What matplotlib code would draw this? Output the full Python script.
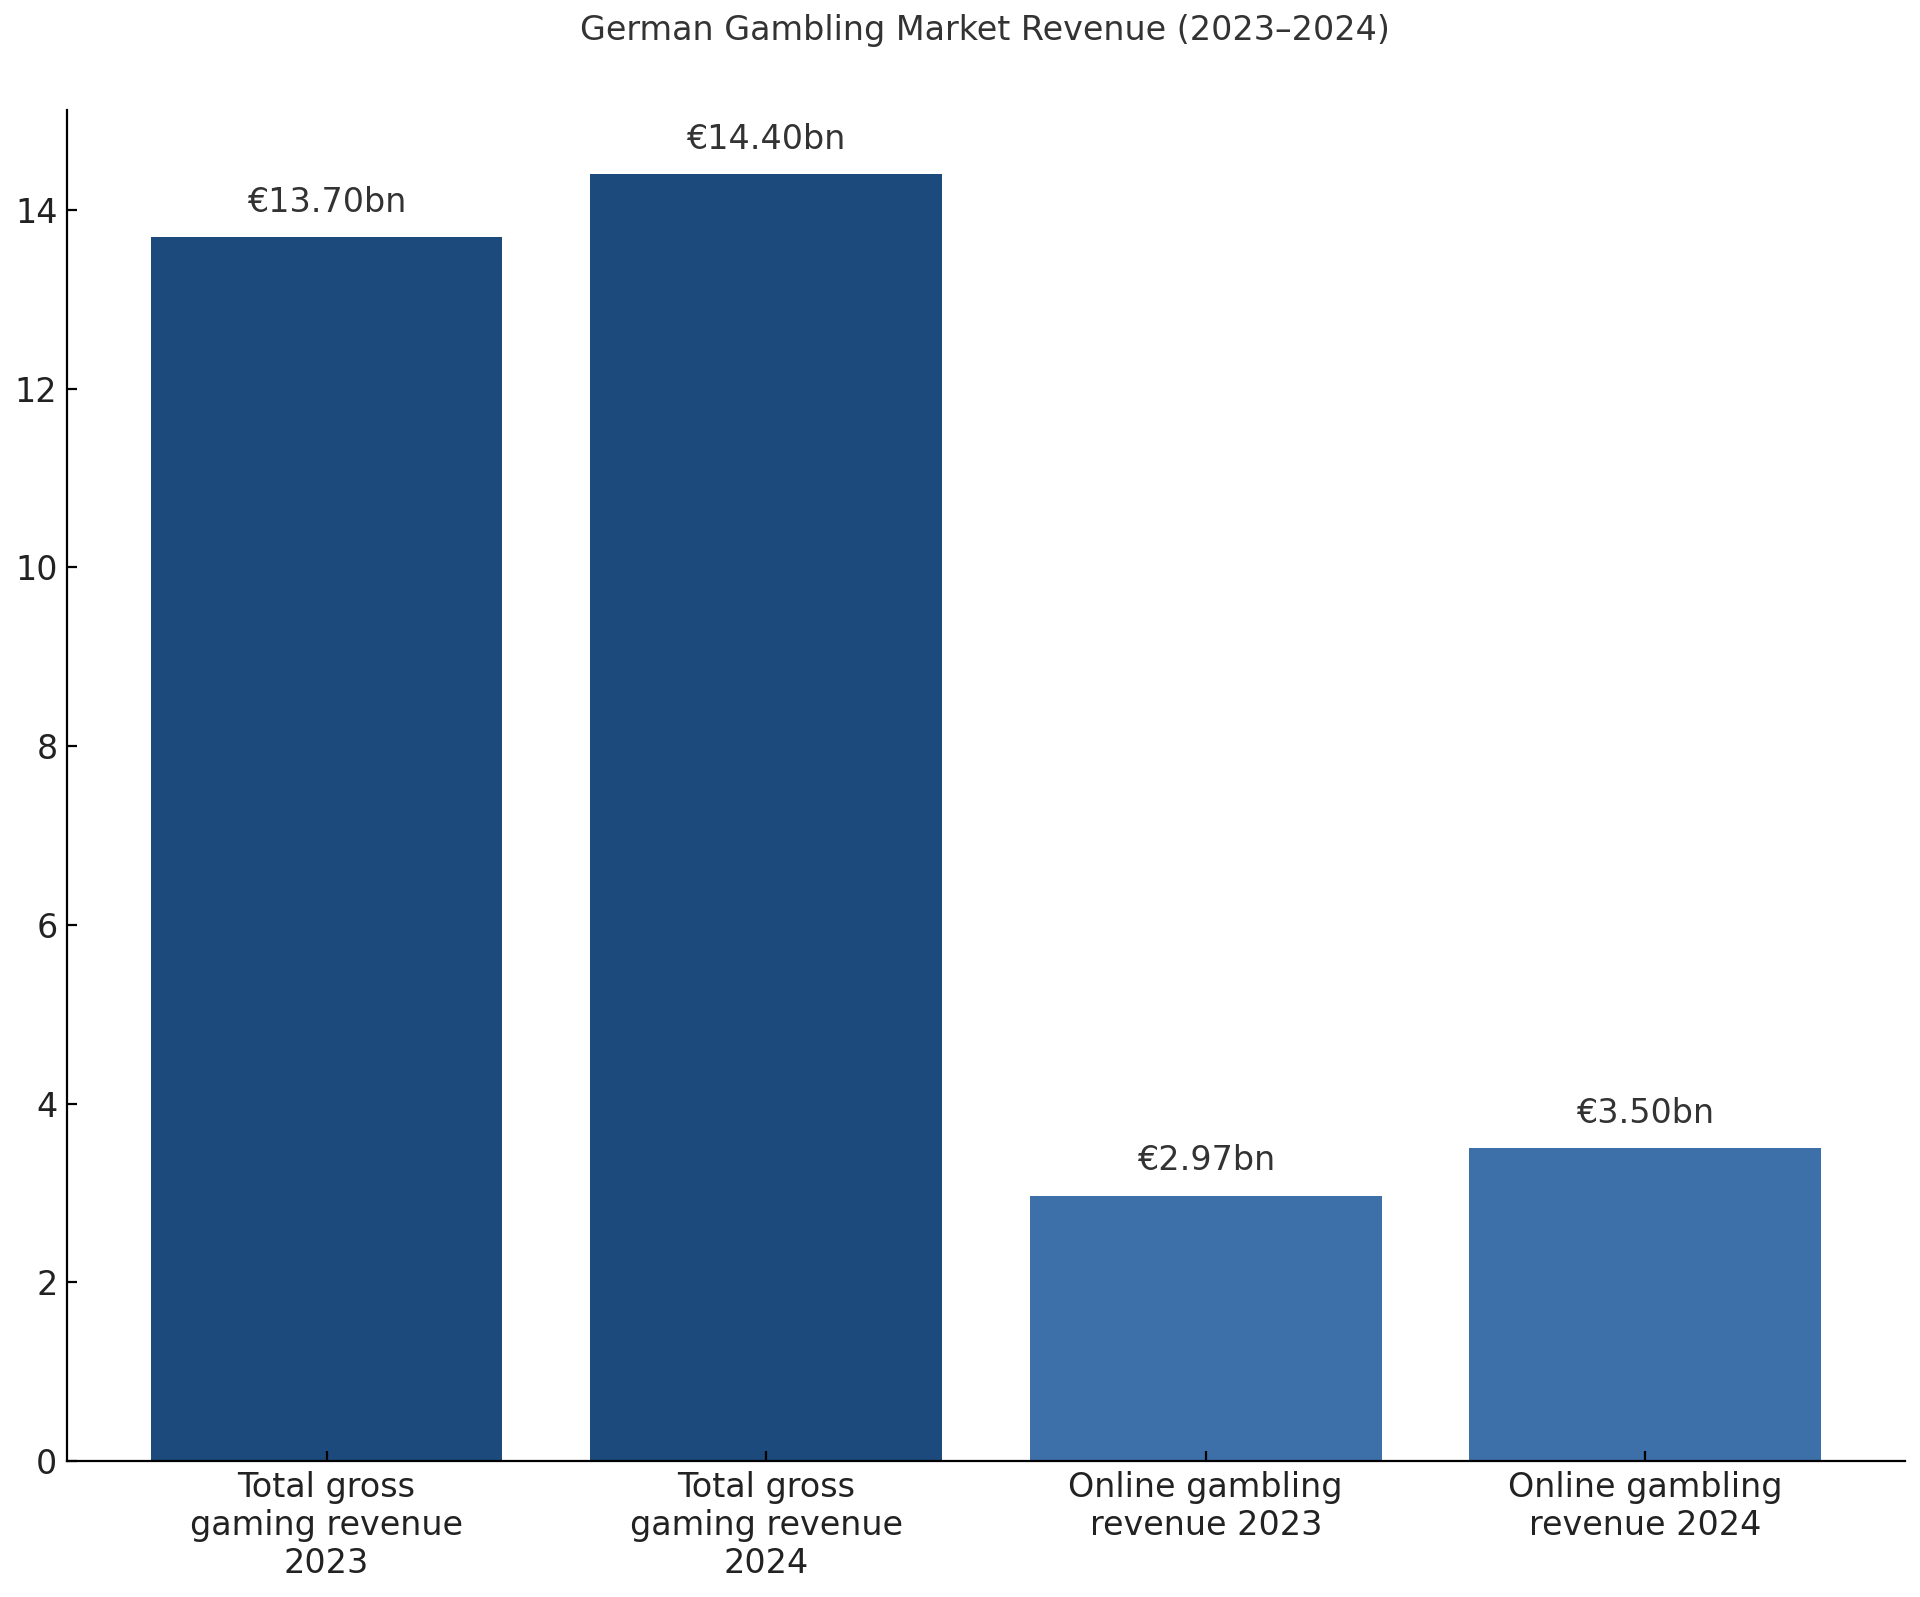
import matplotlib
matplotlib.use("Agg")
import matplotlib.pyplot as plt

categories = ["Total gross\ngaming revenue\n2023", "Total gross\ngaming revenue\n2024",
              "Online gambling\nrevenue 2023", "Online gambling\nrevenue 2024"]
values = [13.70, 14.40, 2.97, 3.50]
colors = ["#1d4a7c", "#1d4a7c", "#3d6fa8", "#3d6fa8"]
title = "German Gambling Market Revenue (2023\u20132024)"

fig = plt.figure(figsize=(9.6, 7.985), dpi=200)
ax = fig.add_axes([0.035, 0.0852, 0.957, 0.846])
x = list(range(len(categories)))
bars = ax.bar(x, values, color=colors, width=0.8)
ax.set_ylim(0, max(values) * 1.05)
ax.set_xticks(x)
ax.set_xticklabels(categories, fontsize=12, color="#222222")
ax.tick_params(axis="both", direction="in")
ax.tick_params(axis="y", labelsize=12, labelcolor="#222222")
for b, v in zip(bars, values):
    ax.annotate(f"\u20ac{v:.2f}bn", (b.get_x() + b.get_width() / 2, v),
                xytext=(0, 6.5), textcoords="offset points", ha="center", va="bottom",
                fontsize=12, color="#333333")
ax.spines["top"].set_visible(False)
ax.spines["right"].set_visible(False)
fig.text(0.513, 0.981, title, fontsize=12, color="#333333", ha="center", va="center")
fig.savefig("out.png", dpi=200)
